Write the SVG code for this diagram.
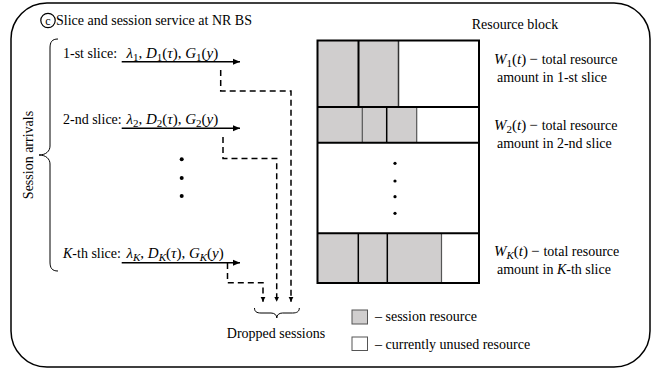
<svg xmlns="http://www.w3.org/2000/svg" width="665" height="369" viewBox="0 0 665 369">
<style>
text{font-family:"Liberation Serif","Times New Roman",serif;font-size:14px;fill:#000}
.mt{font-size:15px}
.m{font-style:italic}
.sub{font-size:11px}
.gray{fill:#d0cece}
.wh{fill:#fff}
.sol{stroke:#000;stroke-width:1.5;fill:none}
.dash{stroke:#000;stroke-width:1.5;fill:none;stroke-dasharray:6 4}
.div{stroke-width:1.5}
</style>
<defs>
<marker id="ah" markerUnits="userSpaceOnUse" markerWidth="8" markerHeight="7" refX="7" refY="3.5" orient="auto">
<path d="M0,0.5 L7,3.5 L0,6.5 z" fill="#000"/>
</marker>
<marker id="ahs" markerUnits="userSpaceOnUse" markerWidth="6" markerHeight="6" refX="5" refY="2.5" orient="auto">
<path d="M0,0 L5,2.5 L0,5 z" fill="#000"/>
</marker>
</defs>
<rect id="frame" x="11" y="3" width="639" height="364" rx="36" ry="36" fill="#fff" stroke="#000" stroke-width="1.5"/>
<g id="title">
<circle cx="48" cy="20.5" r="7.2" fill="none" stroke="#000" stroke-width="1.2"/>
<text x="48" y="24.5" text-anchor="middle" style="font-size:12px">c</text>
<text x="56" y="25">Slice and session service at NR BS</text>
</g>
<g id="arrivals">
<path class="sol" style="stroke-width:1" d="M58,39 C52,39 50,42 50,48 L50,146 C50,151 46,155 39,155 C46,155 50,159 50,164 L50,262 C50,268 52,271 58,271"/>
<text transform="translate(33,155) rotate(-90)" text-anchor="middle">Session arrivals</text>
</g>
<g id="slice1">
<text x="63" y="57.5">1-st slice:</text>
<text class="mt" x="126.5" y="57.5"><tspan class="m">λ</tspan><tspan class="sub" dy="3">1</tspan><tspan dy="-3">, </tspan><tspan class="m">D</tspan><tspan class="sub" dy="3">1</tspan><tspan dy="-3">(</tspan><tspan class="m">τ</tspan>), <tspan class="m">G</tspan><tspan class="sub" dy="3">1</tspan><tspan dy="-3">(</tspan><tspan class="m">y</tspan>)</text>
</g>
<g id="slice2">
<text x="63" y="124">2-nd slice:</text>
<text class="mt" x="126.5" y="124"><tspan class="m">λ</tspan><tspan class="sub" dy="3">2</tspan><tspan dy="-3">, </tspan><tspan class="m">D</tspan><tspan class="sub" dy="3">2</tspan><tspan dy="-3">(</tspan><tspan class="m">τ</tspan>), <tspan class="m">G</tspan><tspan class="sub" dy="3">2</tspan><tspan dy="-3">(</tspan><tspan class="m">y</tspan>)</text>
</g>
<g id="dotsLeft" fill="#000">
<circle cx="181.7" cy="159.3" r="2"/>
<circle cx="181.7" cy="178" r="2"/>
<circle cx="181.7" cy="196" r="2"/>
</g>
<g id="sliceK">
<text x="63" y="258"><tspan class="m">K</tspan>-th slice:</text>
<text class="mt" x="126.5" y="258"><tspan class="m">λ</tspan><tspan class="sub m" dy="3">K</tspan><tspan dy="-3">, </tspan><tspan class="m">D</tspan><tspan class="sub m" dy="3">K</tspan><tspan dy="-3">(</tspan><tspan class="m">τ</tspan>), <tspan class="m">G</tspan><tspan class="sub m" dy="3">K</tspan><tspan dy="-3">(</tspan><tspan class="m">y</tspan>)</text>
</g>
<g id="connectors">
<line class="sol" x1="121.7" y1="61.7" x2="240" y2="61.7" marker-end="url(#ah)"/>
<line class="sol" x1="121.7" y1="128.3" x2="240" y2="128.3" marker-end="url(#ah)"/>
<line class="sol" x1="121.7" y1="262.7" x2="240" y2="262.7" marker-end="url(#ah)"/>
<path class="dash" d="M220.7,70 V91 H291 V301.7" marker-end="url(#ahs)"/>
<path class="dash" d="M223,137 V158.5 H276.7 V301.7" marker-end="url(#ahs)"/>
<path class="dash" d="M227.5,263 V282.7 H263 V301.7" marker-end="url(#ahs)"/>
</g>
<g id="dropped">
<path class="sol" style="stroke-width:1" d="M254.5,308 C254.5,311.5 256.5,313 261,313 L271,313 C274.5,313 276.8,315 276.8,318 C276.8,315 279,313 282.5,313 L292.5,313 C297,313 299.3,311.5 299.3,308"/>
<text x="276" y="338" text-anchor="middle">Dropped sessions</text>
</g>
<g id="resourceBlock">
<text x="515" y="29" text-anchor="middle">Resource block</text>
<rect class="wh" x="317.5" y="40.5" width="161.5" height="242.5"/>
<rect class="gray" x="317.5" y="40.5" width="81" height="66.5"/>
<rect class="gray" x="317.5" y="107" width="99.2" height="35.7"/>
<rect class="gray" x="317.5" y="233.3" width="124" height="49.7"/>
<g class="div">
<line x1="358.5" y1="40.5" x2="358.5" y2="107" stroke="#000" stroke-width="2"/>
<line x1="398.5" y1="40.5" x2="398.5" y2="107" stroke="#333"/>
<line x1="362.3" y1="107" x2="362.3" y2="142.7" stroke="#555" stroke-width="1.2"/>
<line x1="386.7" y1="107" x2="386.7" y2="142.7" stroke="#000"/>
<line x1="416.7" y1="107" x2="416.7" y2="142.7" stroke="#555" stroke-width="1.2"/>
<line x1="358.3" y1="233.3" x2="358.3" y2="283" stroke="#000"/>
<line x1="387.3" y1="233.3" x2="387.3" y2="283" stroke="#000"/>
<line x1="441.5" y1="233.3" x2="441.5" y2="283" stroke="#555" stroke-width="1.2"/>
</g>
<line x1="317.5" y1="107" x2="479" y2="107" stroke="#000" stroke-width="2"/>
<line x1="317.5" y1="142.7" x2="479" y2="142.7" stroke="#000" stroke-width="2"/>
<line x1="317.5" y1="233.3" x2="479" y2="233.3" stroke="#000" stroke-width="2"/>
<rect x="317.5" y="40.5" width="161.5" height="242.5" fill="none" stroke="#000" stroke-width="2"/>
<g fill="#000">
<circle cx="395" cy="163.3" r="1.6"/>
<circle cx="395" cy="181" r="1.6"/>
<circle cx="395" cy="196.7" r="1.6"/>
<circle cx="395" cy="213.3" r="1.6"/>
</g>
</g>
<g id="w1">
<text x="494" y="64"><tspan class="mt m">W</tspan><tspan class="sub" dy="3">1</tspan><tspan class="mt" dy="-3">(</tspan><tspan class="mt m">t</tspan><tspan class="mt">)</tspan><tspan class="mt" dx="3">−</tspan><tspan dx="4">total resource</tspan></text>
<text x="497" y="82">amount in 1-st slice</text>
</g>
<g id="w2">
<text x="494" y="129.5"><tspan class="mt m">W</tspan><tspan class="sub" dy="3">2</tspan><tspan class="mt" dy="-3">(</tspan><tspan class="mt m">t</tspan><tspan class="mt">)</tspan><tspan class="mt" dx="3">−</tspan><tspan dx="4">total resource</tspan></text>
<text x="497" y="147.5">amount in 2-nd slice</text>
</g>
<g id="wK">
<text x="494" y="255.5"><tspan class="mt m">W</tspan><tspan class="sub m" dy="3">K</tspan><tspan class="mt" dy="-3">(</tspan><tspan class="mt m">t</tspan><tspan class="mt">)</tspan><tspan class="mt" dx="3">−</tspan><tspan dx="4">total resource</tspan></text>
<text x="497" y="273.5">amount in <tspan class="m">K</tspan>-th slice</text>
</g>
<g id="legend">
<rect class="gray" x="352" y="310" width="15.5" height="14" stroke="#555" stroke-width="1"/>
<text x="375" y="321">– session resource</text>
<rect class="wh" x="352" y="337" width="15.5" height="13.5" stroke="#555" stroke-width="1"/>
<text x="375" y="349">– currently unused resource</text>
</g>
</svg>
